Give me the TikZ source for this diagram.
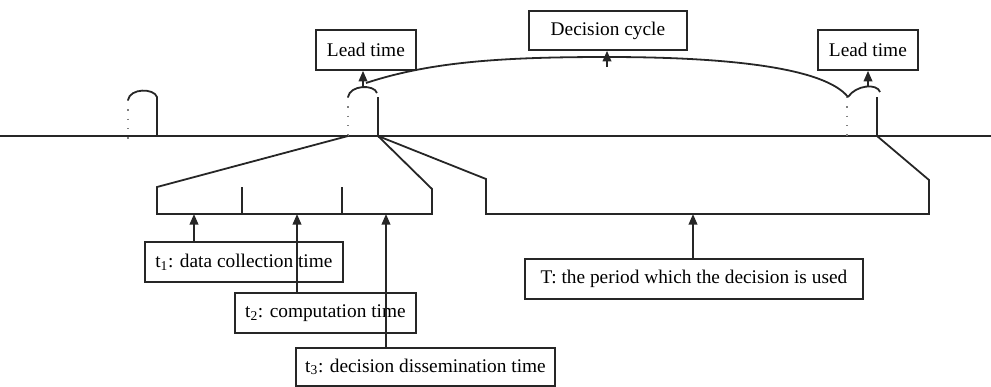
\documentclass[tikz,border=0pt]{standalone}
\usepackage{fontspec}
\setmainfont{Liberation Serif}
\usetikzlibrary{arrows.meta}
\begin{document}
\begin{tikzpicture}[x=0.75pt,y=-0.75pt,
  ln/.style={line width=1.35pt, draw=black!85, line join=miter},
  dots/.style={line width=0.9pt, draw=black!50, dash pattern=on 1pt off 6pt},
  labelbox/.style={draw=black!85, line width=1.35pt, minimum height=30pt,
    inner xsep=7pt, inner ysep=0pt, anchor=north west,
    font=\fontsize{14.5}{17}\selectfont},
  arr/.style={ln, -{Triangle[length=8pt,width=6.5pt]}}]
\useasboundingbox (0,0) rectangle (991,386);

% time axis
\draw[ln] (0,136) -- (991,136);

% pulses on the axis
\draw[dots] (128,100) -- (128,145);
\draw[ln] (128,100) .. controls (130,88) and (154,88) .. (157,97) -- (157,136);

\draw[dots] (348,97) -- (348,138);
\draw[ln] (348,97) .. controls (350,85) and (374,84) .. (377,93);
\draw[ln] (378,97) -- (378,136);

\draw[dots] (847,97) -- (847,140);
\draw[ln] (848,97) .. controls (856,85) and (877,83) .. (880,92);
\draw[ln] (877,97) -- (877,136);

% decision cycle arc
\draw[ln] (366,83) .. controls (430,62) and (500,57) .. (607,57)
  .. controls (730,57) and (825,68) .. (848,97);

% expanded lead time (t1, t2, t3)
\draw[ln] (348,136) -- (157,187) -- (157,214) -- (432,214) -- (432,189) -- (378,136);
\draw[ln] (242,187) -- (242,214);
\draw[ln] (342,187) -- (342,214);

% expanded period T
\draw[ln] (378,136) -- (486,179) -- (486,214) -- (929,214) -- (929,180) -- (877,136);

% labels
\node[labelbox, minimum width=75pt] (lead1) at (315,29) {Lead time};
\node[labelbox, minimum width=75pt] (lead2) at (817,29) {Lead time};
\node[labelbox, minimum width=118.5pt, minimum height=29.25pt] (cycle) at (528,10) {Decision cycle};
\node[labelbox, minimum width=148.5pt] (t1) at (144,241) {t\textsubscript{1}: data collection time};
\node[labelbox, minimum width=135.75pt] (t2) at (234,292) {t\textsubscript{2}: computation time};
\node[labelbox, minimum height=28.5pt] (t3) at (295,347) {t\textsubscript{3}: decision dissemination time};
\node[labelbox, minimum width=253.5pt] (T) at (524,258) {T: the period which the decision is used};

% pointers
\coordinate (pk1) at (363,87);
\coordinate (pk2) at (868,86);
\coordinate (cyc) at (607,67);
\draw[arr] (pk1) -- (pk1 |- lead1.south);
\draw[arr] (pk2) -- (pk2 |- lead2.south);
\draw[arr] (cyc) -- (cyc |- cycle.south);

\coordinate (b1) at (194,214);
\coordinate (b2) at (297,214);
\coordinate (b3) at (386,214);
\coordinate (bT) at (693,214);
\draw[arr] (b1 |- t1.north) -- (b1);
\draw[arr] (b2 |- t2.north) -- (b2);
\draw[arr] (b3 |- t3.north) -- (b3);
\draw[arr] (bT |- T.north) -- (bT);
\end{tikzpicture}
\end{document}
